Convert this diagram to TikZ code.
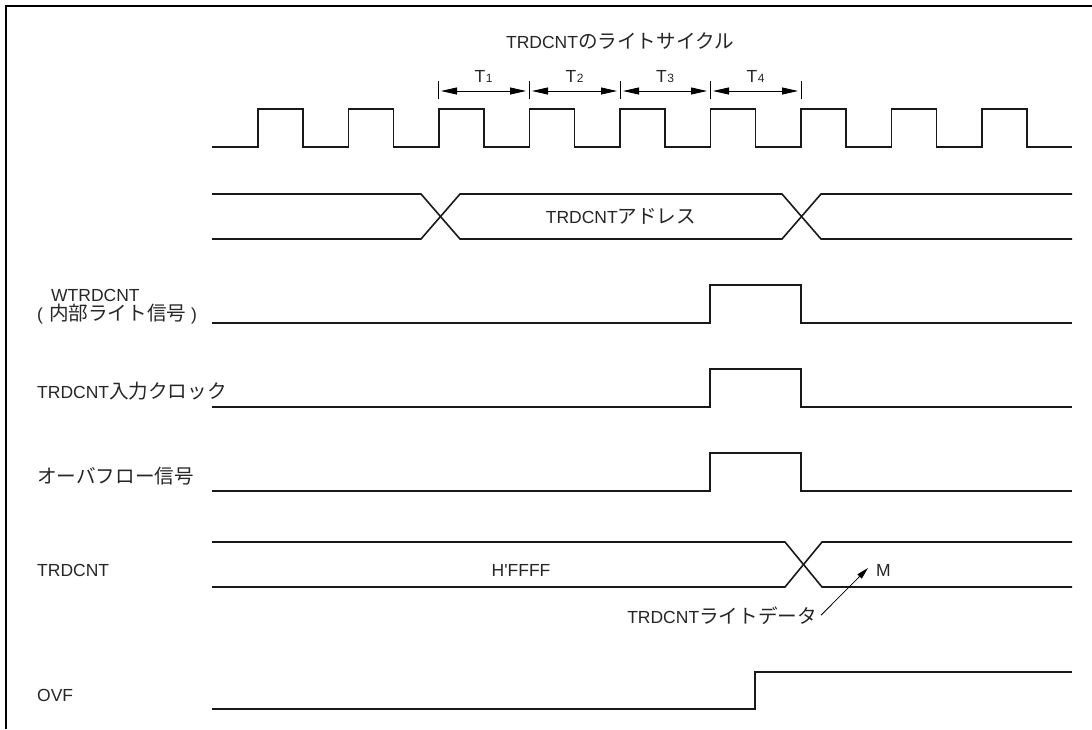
\documentclass[tikz,border=0pt]{standalone}
\usepackage{fontspec}
\setmainfont{Liberation Sans}
\newfontfamily\jp[Scale=1.12]{Noto Sans CJK JP}
\usetikzlibrary{arrows.meta}
\newcommand{\tsub}[1]{\kern0.5pt{\fontsize{12}{12}\selectfont #1}}
\tikzset{
  wave/.style={line width=1.6pt, draw=black!90},
  lbl/.style={anchor=base west, inner sep=0pt, text=black!85},
  txt/.style={anchor=base, inner sep=0pt, text=black!85},
  span/.style={{Triangle[length=16pt,width=7pt]}-{Triangle[length=16pt,width=7pt]}, line width=0.8pt},
  tick/.style={line width=0.8pt}
}
\begin{document}
\begin{tikzpicture}[x=1pt,y=-1pt,font=\fontsize{17.5}{20}\selectfont]
\useasboundingbox (0,0) rectangle (1092,729);
\draw[line width=2pt] (6,729) -- (6,6) -- (1092,6);

\node[txt] (cycle) at (620,48) {TRDCNT{\jp のライトサイクル}};
\foreach \x [count=\n] in {438,529,620,710,801} {
  \coordinate (t\n) at (\x,91);
  \draw[tick] (\x,81) -- (\x,99);
}
\foreach \n [evaluate=\n as \m using int(\n+1)] in {1,...,4} {
  \draw[span] ([xshift=3pt]t\n) -- ([xshift=-3pt]t\m)
    node[midway, txt, yshift=9pt] (T\n) {T\tsub{\n}};
}
\draw[wave] (212,147) foreach \k in {0,...,8} {
  -- ({258+90.5*\k},147) -- ({258+90.5*\k},109) -- ({303+90.5*\k},109) -- ({303+90.5*\k},147)
} -- (1072,147);

\draw[wave] (212,194) -- (421,194) -- (460,239) -- (782,239) -- (821,194) -- (1072,194);
\draw[wave] (212,239) -- (421,239) -- (460,194) -- (782,194) -- (821,239) -- (1072,239);
\node[txt] (addr) at (621,223) {TRDCNT{\jp アドレス}};

\node[lbl] (wtrd) at (51,301) {WTRDCNT};
\node[lbl] (wtrdnote) at (37,320) {(\kern6pt{\jp 内部ライト信号}\kern5pt)};
\draw[wave] (212,323) -- (710,323) -- (710,285) -- (801,285) -- (801,323) -- (1072,323);

\node[lbl] (inclk) at (37,398) {TRDCNT{\jp 入力クロック}};
\draw[wave] (212,407) -- (710,407) -- (710,369) -- (801,369) -- (801,407) -- (1072,407);

\node[lbl] (ovsig) at (37,483) {\jp オーバフロー信号};
\draw[wave] (212,491) -- (710,491) -- (710,453) -- (801,453) -- (801,491) -- (1072,491);

\node[lbl] (cnt) at (37,576) {TRDCNT};
\draw[wave] (212,542) -- (785,542) -- (822,587) -- (1072,587);
\draw[wave] (212,587) -- (785,587) -- (822,542) -- (1072,542);
\node[txt] (ffff) at (521,576) {H\textquotesingle FFFF};
\node[lbl] (m) at (876,576) {M};
\node[anchor=base east, inner sep=0pt, text=black!85] (wdata) at (817,623) {TRDCNT{\jp ライトデータ}};
\coordinate (mtip) at (868,568);
\draw[-{Triangle[length=12pt,width=6pt]}, line width=0.8pt] ([xshift=4pt]wdata.east) -- (mtip);

\node[lbl] (ovf) at (37,701) {OVF};
\draw[wave] (212,709) -- (755,709) -- (755,672) -- (1072,672);
\end{tikzpicture}
\end{document}
